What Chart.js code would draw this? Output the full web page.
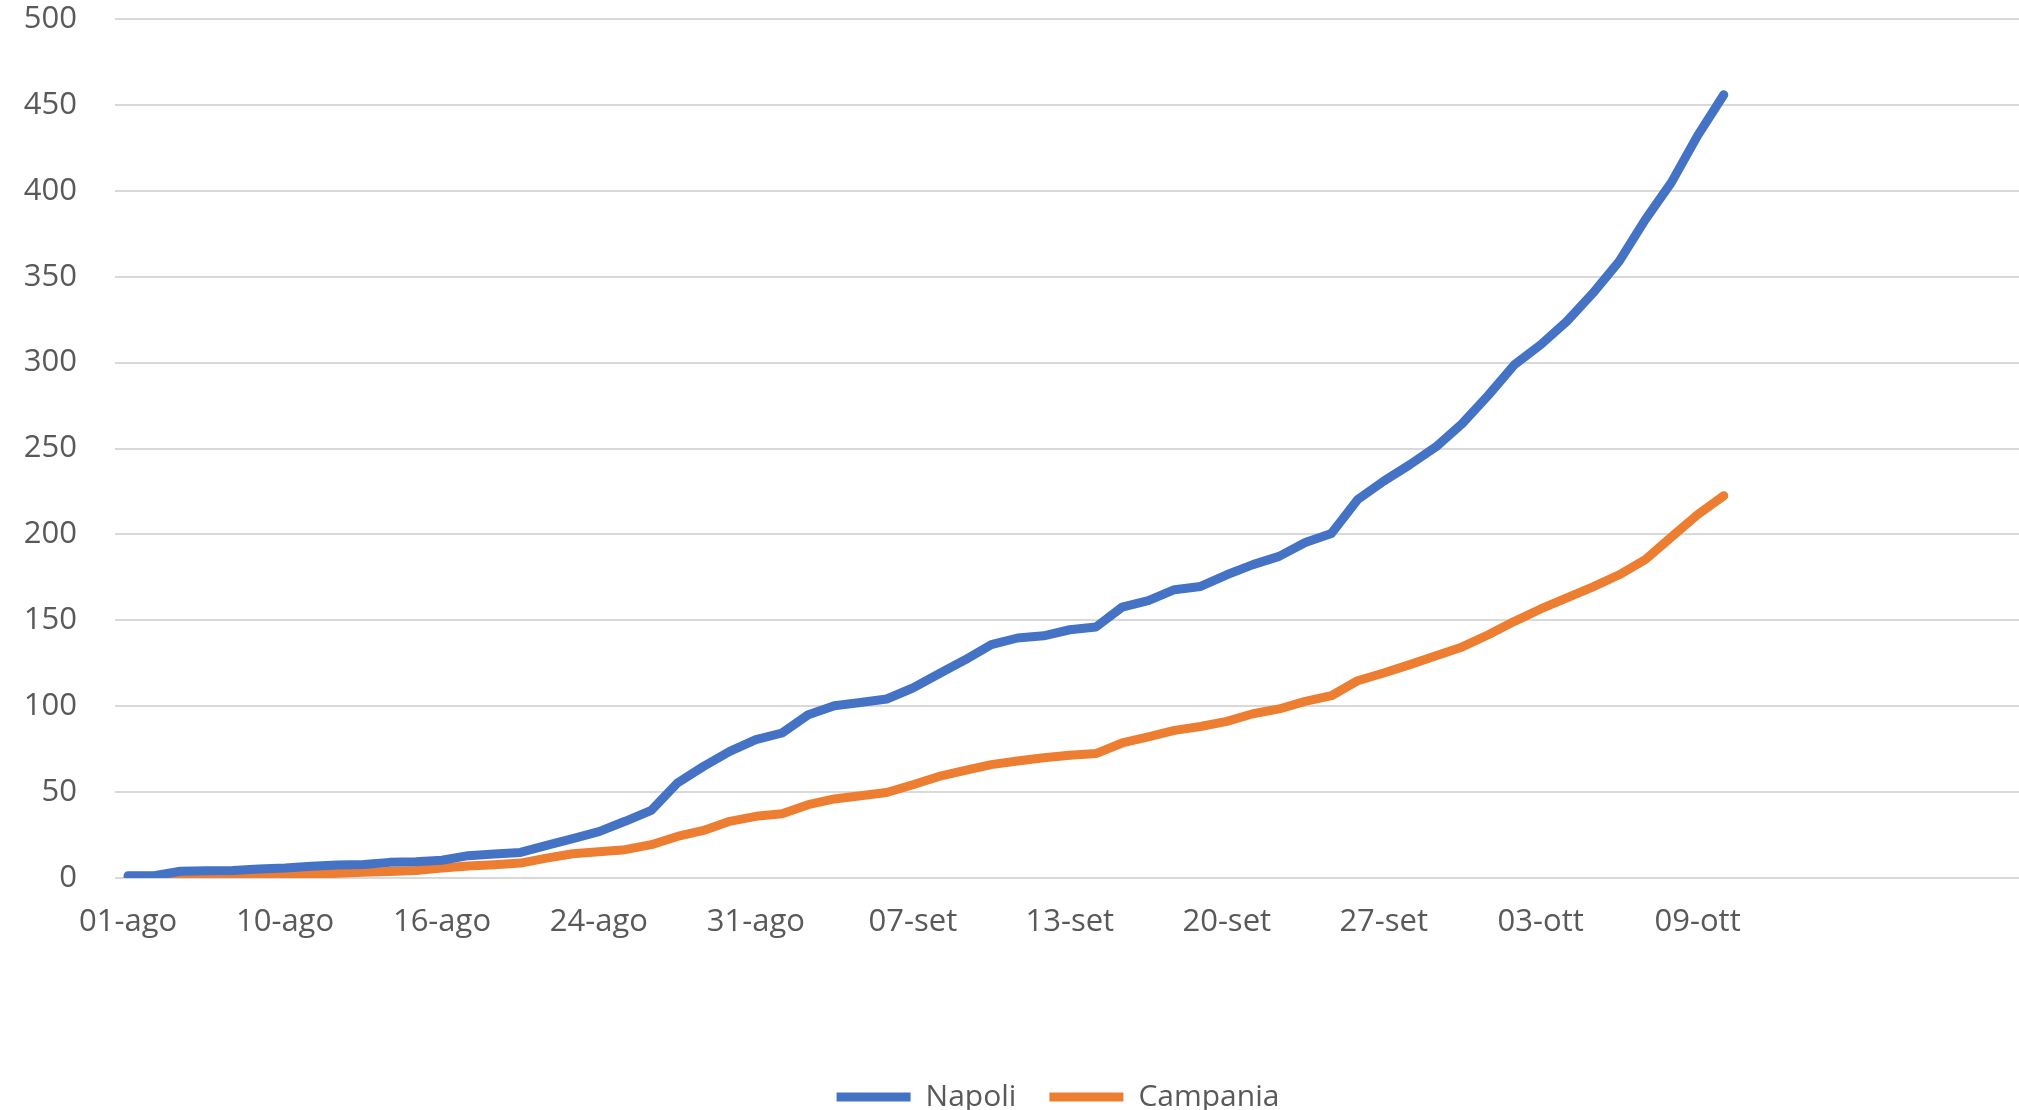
<!DOCTYPE html>
<html>
<head>
<meta charset="utf-8">
<title>Napoli / Campania</title>
<script src="https://cdn.jsdelivr.net/npm/chart.js@4.4.1/dist/chart.umd.min.js"></script>
<style>
    html, body { margin: 0; padding: 0; background: #fff; overflow: hidden; }
    #wrap { position: relative; width: 2116px; height: 1122px; }
</style>
</head>
<body>
<div id="wrap"><canvas id="chart"></canvas></div>
<script>
// dates of the points (only every 6th is shown on the axis)
const dates = [
    '01-ago', '03-ago', '05-ago', '06-ago', '07-ago', '08-ago',
    '10-ago', '11-ago', '12-ago', '13-ago', '14-ago', '15-ago',
    '16-ago', '17-ago', '18-ago', '19-ago', '20-ago', '22-ago',
    '24-ago', '25-ago', '26-ago', '27-ago', '28-ago', '29-ago',
    '31-ago', '01-set', '02-set', '03-set', '04-set', '05-set',
    '07-set', '08-set', '09-set', '10-set', '11-set', '12-set',
    '13-set', '14-set', '15-set', '16-set', '17-set', '18-set',
    '20-set', '21-set', '22-set', '23-set', '24-set', '25-set',
    '27-set', '28-set', '29-set', '30-set', '01-ott', '02-ott',
    '03-ott', '04-ott', '05-ott', '06-ott', '07-ott', '08-ott',
    '09-ott', '10-ott'
];
// empty rows at the end of the sheet, the axis keeps going past the data
const emptyRows = ['', '', '', '', '', '', '', '', '', '', '', '', '', ''];

const napoli = [
    1.3, 1.3, 3.9, 4.2, 4.4, 5.2, 5.8, 6.8, 7.6, 7.9,
    9.1, 9.5, 10.3, 13, 14, 14.9, 19, 22.9, 27, 33,
    39.4, 55.3, 65, 73.7, 80.5, 84.4, 95, 100.3, 102.2, 104.2,
    110.6, 118.9, 127, 135.8, 139.7, 141, 144.5, 146.1, 157.7, 161.4,
    167.8, 169.7, 176.5, 182.4, 187.2, 195.3, 200.5, 220.2, 231, 240.6,
    251, 264.5, 281, 298.8, 310.4, 324, 340.5, 358.9, 383.2, 404.9,
    432.1, 455.9
];
const campania = [
    0.4, 0.4, 0.6, 0.8, 0.9, 0.9, 1.5, 2.1, 2.7, 3.3,
    3.8, 4.4, 5.8, 7, 7.7, 8.7, 11.6, 14.1, 15.3, 16.5,
    19.4, 24.2, 27.7, 33, 35.9, 37.4, 42.7, 46, 47.9, 49.8,
    54.3, 59.1, 62.6, 66, 68.1, 70, 71.5, 72.4, 78.6, 82.1,
    85.9, 88.2, 91.2, 95.6, 98.4, 102.8, 106.1, 114.8, 119.3, 124.2,
    129.4, 134.5, 141.6, 149.4, 156.6, 163, 169.5, 176.5, 185.3, 198.5,
    211.5, 222.5
];

const yMin = 0;
const yMax = 500;
const yStep = 50;
const labelEvery = 6;

Chart.defaults.font.family = "'Open Sans', sans-serif";
Chart.defaults.color = '#595959';

const ctx = document.getElementById('chart');

new Chart(ctx, {
    type: 'line',
    data: {
        labels: dates.concat(emptyRows),
        datasets: [{
            label: 'Napoli',
            data: napoli,
            borderColor: '#4472C4',
            backgroundColor: '#4472C4',
            borderWidth: 9,
            borderCapStyle: 'round',
            borderJoinStyle: 'round',
            pointRadius: 0,
            tension: 0,
            fill: false,
        },
        {
            label: 'Campania',
            data: campania,
            borderColor: '#ED7D31',
            backgroundColor: '#ED7D31',
            borderWidth: 9,
            borderCapStyle: 'round',
            borderJoinStyle: 'round',
            pointRadius: 0,
            tension: 0,
            fill: false,
        }]
    },
    options: {
        responsive: true,
        maintainAspectRatio: false,
        animation: false,
        layout: {
            padding: { top: 19, left: 0, right: 0, bottom: 0 }
        },
        plugins: {
            tooltip: { enabled: false },
            legend: {
                position: 'bottom',
                labels: {
                    usePointStyle: true,
                    pointStyle: 'line',
                    pointStyleWidth: 74,
                    padding: 33,
                    font: { size: 30 },
                    color: '#595959',
                }
            }
        },
        scales: {
            x: {
                offset: true,
                grid: { display: false, drawTicks: false },
                border: { display: false },
                ticks: {
                    autoSkip: false,
                    maxRotation: 0,
                    padding: 26,
                    font: { size: 31 },
                    callback: function(val, idx) {
                        return idx % labelEvery === 0 ? this.getLabelForValue(val) : '';
                    }
                },
                afterFit: function(scale) {
                    scale.height = 171;
                }
            },
            y: {
                min: yMin,
                max: yMax,
                ticks: {
                    stepSize: yStep,
                    padding: 38,
                    font: { size: 31 },
                },
                grid: { color: '#D9D9D9', lineWidth: 2, drawTicks: false },
                border: { display: false },
                afterFit: function(scale) {
                    scale.width = 115;
                    // the top label may stick out, the plot starts right under the padding
                    scale.paddingTop = 0;
                    scale.paddingBottom = 0;
                }
            }
        }
    }
});
</script>
</body>
</html>
